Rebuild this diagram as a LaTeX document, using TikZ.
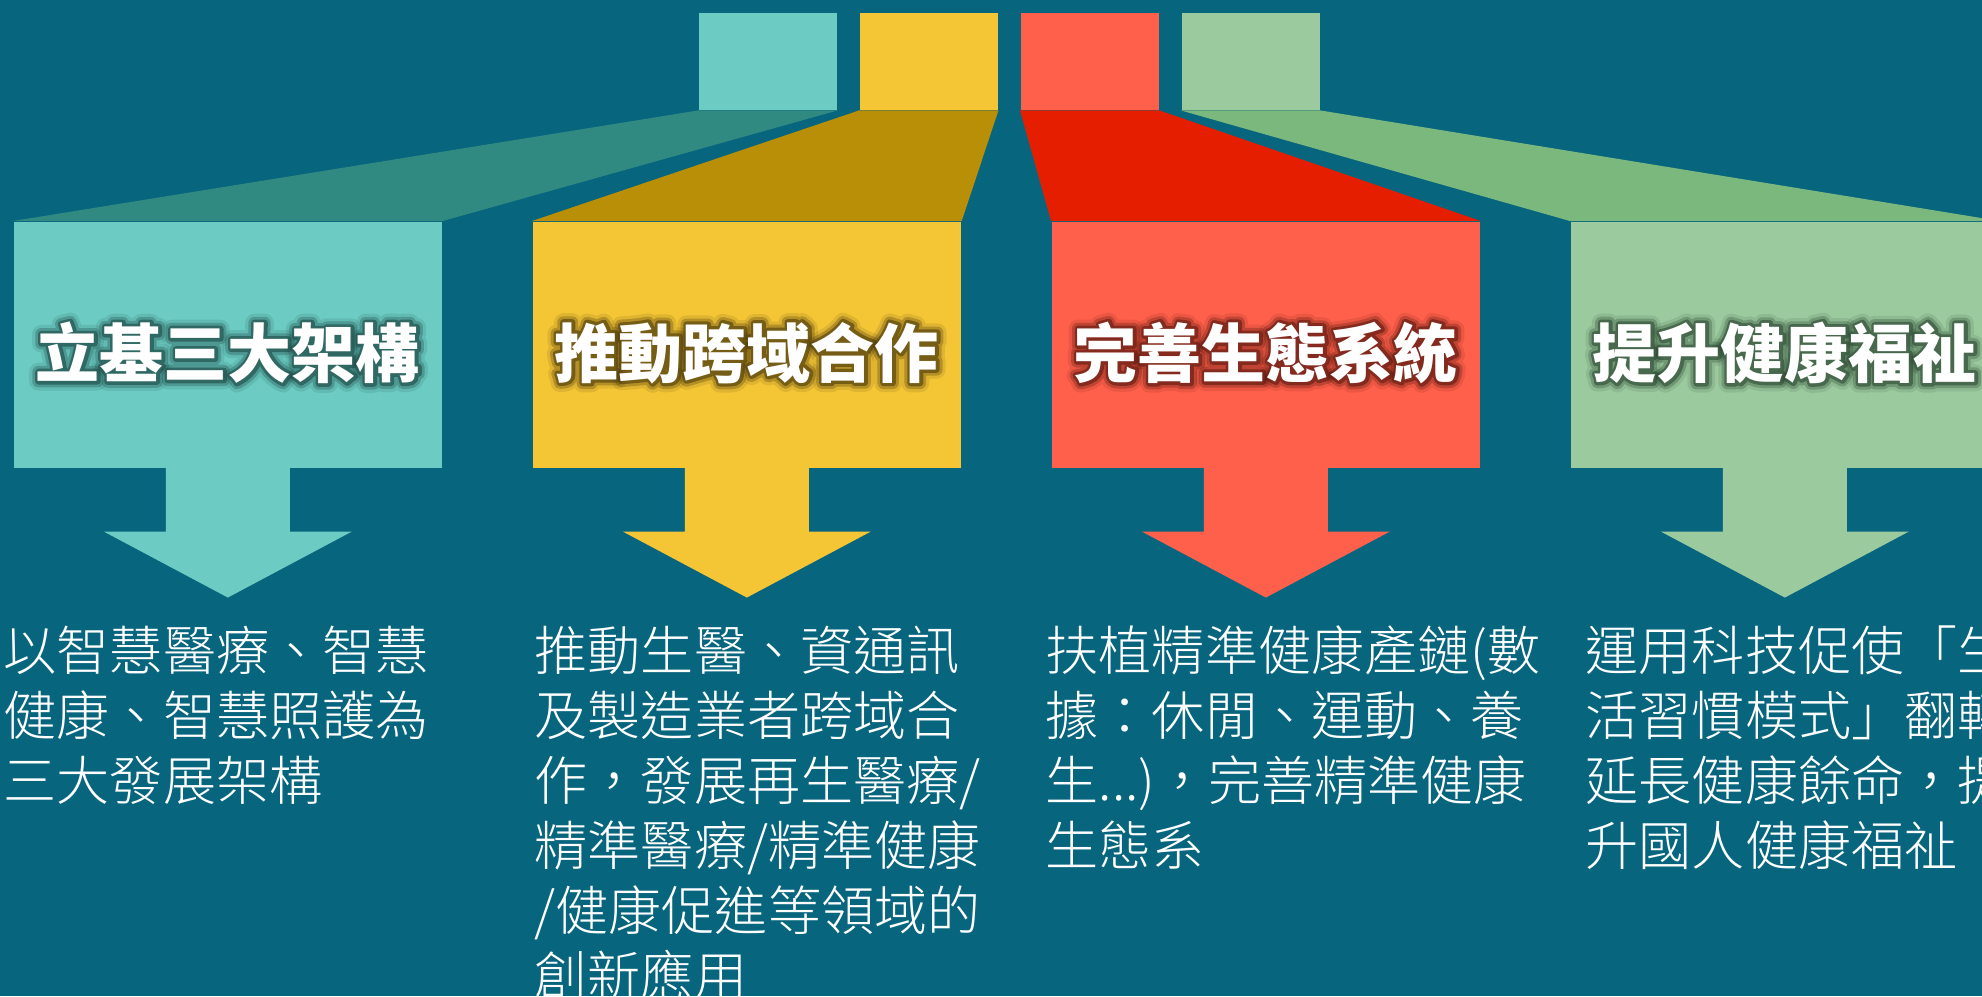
\documentclass[tikz,border=0pt]{standalone}
\usepackage{fontspec}
\setmainfont{Noto Sans CJK TC}
\IfFontExistsTF{Noto Sans CJK TC Light}
  {\newfontfamily\lightcjk{Noto Sans CJK TC Light}}
  {\newfontfamily\lightcjk{Noto Sans CJK TC}}
\usepackage{tikz}
\usetikzlibrary{calc,positioning}
\definecolor{bgblue}{HTML}{08657E}
\definecolor{tealA}{HTML}{6CCBC3}
\definecolor{tealB}{HTML}{318A82}
\definecolor{tealC}{HTML}{1E4A46}
\definecolor{yellowA}{HTML}{F4C535}
\definecolor{yellowB}{HTML}{BA8F08}
\definecolor{yellowC}{HTML}{4E3C0C}
\definecolor{redA}{HTML}{FF604B}
\definecolor{redB}{HTML}{E51E00}
\definecolor{redC}{HTML}{5E1A10}
\definecolor{greenA}{HTML}{9BCA9F}
\definecolor{greenB}{HTML}{7AB87E}
\definecolor{greenC}{HTML}{2E4A34}
\newcommand\strokedtext[2]{\special{pdf:literal direct 1 Tr #1 w 1 j}#2\special{pdf:literal direct 0 Tr}}

\begin{document}
\begin{tikzpicture}[x=0.01cm,y=-0.01cm,
  smallsq/.style={rectangle,minimum width=1.38cm,minimum height=0.97cm,inner sep=0,anchor=north west},
  bigbox/.style={rectangle,minimum width=4.28cm,minimum height=2.46cm,inner sep=0,anchor=north west},
  titletext/.style={text=white,font=\fontsize{18.2pt}{22pt}\selectfont\bfseries,inner sep=0},
  bodytext/.style={text=white,font=\lightcjk\fontsize{15.1pt}{18.5pt}\selectfont,align=left,inner sep=0,anchor=north west}]
\useasboundingbox (0,0) rectangle (1982,996);
\fill[bgblue] (0,0) rectangle (1982,996);
\foreach \i/\c/\t in {0/teal/立基三大架構,1/yellow/推動跨域合作,2/red/完善生態系統,3/green/提升健康福祉}{
  \node[smallsq,fill=\c A] (sq\i) at (698+161*\i,12) {};
  \node[bigbox,fill=\c A] (box\i) at (13+519*\i,221) {};
  \fill[\c B] (sq\i.south west) -- (sq\i.south east) -- (box\i.north east) -- (box\i.north west) -- cycle;
  \fill[\c A] (box\i.south) ++(-62,-1) -- ++(0,64) -- ++(-62,0) -- ++(124,66) -- ++(124,-66) -- ++(-62,0) -- ++(0,-64) -- cycle;
  \node[titletext,text=\c C,opacity=0.12] at ($(box\i.center)+(0,8)$) {\strokedtext{5.2}{\t}};
  \node[titletext,text=\c C,opacity=0.3] at ($(box\i.center)+(0,8)$) {\strokedtext{3.4}{\t}};
  \node[titletext,text=\c C,opacity=0.6] at ($(box\i.center)+(0,8)$) {\strokedtext{1.8}{\t}};
  \node[titletext] (title\i) at ($(box\i.center)+(0,8)$) {\t};
}
\node[bodytext] (txt0) at (3,625) {以智慧醫療、智慧\\健康、智慧照護為\\三大發展架構};
\node[bodytext] (txt1) at (534,625) {推動生醫、資通訊\\及製造業者跨域合\\作，發展再生醫療/\\精準醫療/精準健康\\/健康促進等領域的\\創新應用};
\node[bodytext] (txt2) at (1045,625) {扶植精準健康產鏈(數\\據：休閒、運動、養\\生...)，完善精準健康\\生態系};
\node[bodytext] (txt3) at (1585,625) {運用科技促使「生\\活習慣模式」翻轉\\延長健康餘命，提\\升國人健康福祉};
\end{tikzpicture}
\end{document}
